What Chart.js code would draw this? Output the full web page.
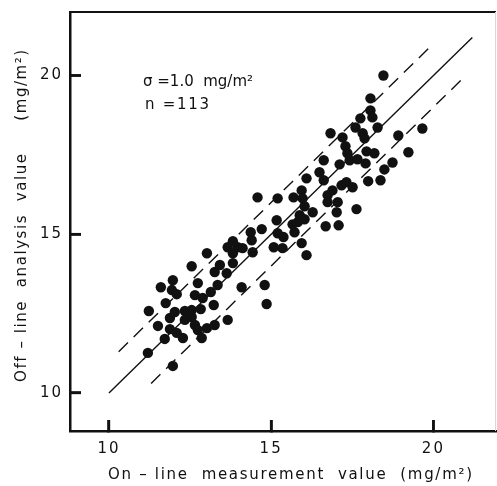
<!DOCTYPE html>
<html lang="en">
<head>
<meta charset="UTF-8">
<title>On-line vs off-line coating weight</title>
<script src="https://cdn.jsdelivr.net/npm/chart.js@4.4.0/dist/chart.umd.min.js"></script>
<style>
  html, body { margin: 0; padding: 0; background: #fff; }
  #wrap { width: 497px; height: 486px; }
</style>
</head>
<body>
<div id="wrap"><canvas id="chart" width="497" height="486"></canvas></div>
<script>
const onlineVals = [
  11.20, 11.97, 11.23, 11.51, 11.75, 11.72, 11.60, 11.94, 11.97, 12.09,
  11.88, 11.88, 12.03, 12.09, 12.28, 12.34, 12.34, 12.55, 12.55, 12.65,
  12.74, 12.65, 12.74, 12.83, 12.86, 13.02, 13.14, 13.23, 13.26, 13.35,
  13.66, 14.09, 13.26, 13.63, 12.55, 13.02, 13.42, 13.82, 13.66, 13.97,
  13.82, 13.82, 14.12, 14.43, 14.40, 14.37, 14.71, 15.08, 15.35, 15.20,
  15.38, 15.66, 15.72, 15.94, 16.09, 14.80, 14.86, 14.58, 15.20, 15.17,
  15.69, 15.94, 16.09, 15.97, 16.03, 16.28, 15.88, 15.82, 16.03, 16.49,
  16.62, 16.68, 17.08, 16.74, 16.89, 16.74, 17.05, 17.02, 17.17, 17.32,
  17.51, 17.63, 16.62, 16.83, 17.11, 17.20, 17.29, 17.35, 17.42, 17.66,
  17.60, 17.75, 17.82, 17.88, 17.94, 17.91, 18.06, 18.06, 18.12, 18.28,
  18.18, 18.46, 18.92, 19.66, 19.23, 18.74, 18.49, 17.99, 18.37, 12.89
];
const offlineVals = [
  11.26, 10.85, 12.58, 12.11, 12.83, 11.70, 13.33, 13.24, 13.55, 13.11,
  12.36, 12.01, 12.55, 11.89, 11.73, 12.58, 12.30, 12.61, 12.39, 12.14,
  11.98, 13.08, 13.46, 12.64, 11.73, 12.04, 13.18, 12.77, 12.14, 13.40,
  12.30, 13.33, 13.81, 13.77, 13.99, 14.40, 14.03, 14.09, 14.59, 14.59,
  14.78, 14.40, 14.56, 14.43, 14.81, 15.06, 15.16, 14.59, 14.56, 15.03,
  14.91, 15.31, 15.06, 14.72, 14.34, 13.40, 12.80, 16.16, 16.13, 15.44,
  16.16, 16.38, 16.76, 16.13, 15.88, 15.69, 15.60, 15.38, 15.47, 16.95,
  16.70, 15.25, 15.28, 16.23, 16.38, 16.01, 16.01, 15.69, 16.54, 16.64,
  16.48, 15.79, 17.33, 18.18, 17.20, 18.05, 17.77, 17.55, 17.33, 17.36,
  18.36, 18.65, 18.18, 18.02, 17.61, 17.23, 19.28, 18.90, 18.68, 18.36,
  17.55, 20.00, 18.11, 18.33, 17.58, 17.26, 17.04, 16.67, 16.70, 12.99
];

// reference lines: y = x (solid) and y = x +/- 1.0 (dashed)
const centerX = [10, 21.2];
const centerY = [10, 21.2];
const upperX = [10.3, 20.0];
const upperY = [11.3, 21.0];
const lowerX = [11.3, 21.0];
const lowerY = [10.3, 20.0];

const xMin = 8.8, xMax = 21.93;
const yMin = 8.8, yMax = 22;
const tickVals = [10, 15, 20];

const xTitle = 'On \u2013 line  measurement  value  (mg/m\u00B2)';
const yTitle = 'Off \u2013 line  analysis  value     (mg/m\u00B2)';
const noteSigma = '\u03C3 =1.0  mg/m\u00B2';
const noteN = 'n =113';

const ink = '#111';
const fontFam = '"DejaVu Sans", sans-serif';

function pairs(xs, ys) {
  return xs.map((v, i) => ({ x: v, y: ys[i] }));
}

// draw text stretched with letter spacing so it covers a given width
function spacedText(ctx, text, x, y, width) {
  ctx.letterSpacing = '0px';
  const w = ctx.measureText(text).width;
  const n = [...text].length;
  ctx.letterSpacing = Math.max(0, (width - w) / (n - 1)) + 'px';
  ctx.fillText(text, x, y);
}

// keep the plot box where the figure has it
function fixBox(size, key) {
  return s => {
    s[key] = size;
    s.paddingTop = 0; s.paddingBottom = 0;
    s.paddingLeft = 0; s.paddingRight = 0;
  };
}

// tick marks drawn by the axis itself; negative length puts them inside the frame
const tickGrid = {
  display: true,
  drawOnChartArea: false,
  drawTicks: true,
  tickLength: -11,
  tickWidth: 2.5,
  tickColor: ink
};

const framePlugin = {
  id: 'frame',
  beforeDraw(chart) {
    chart.ctx.letterSpacing = '2px';
  },
  afterDraw(chart) {
    const { ctx, chartArea: a, scales } = chart;
    const xs = scales.x, ys = scales.y;
    ctx.save();
    ctx.setLineDash([]);
    ctx.fillStyle = ink;
    // top border
    ctx.fillRect(a.left, a.top - 1, a.right - a.left, 2);
    // faint right border
    ctx.fillStyle = '#d8d8d8';
    ctx.fillRect(a.right - 1, a.top, 1, a.bottom - a.top);

    // inner tick marks (same spot as the axis ticks)
    ctx.fillStyle = ink;
    for (const v of tickVals) {
      const px = xs.getPixelForValue(v);
      ctx.fillRect(px - 1.25, a.bottom - 11, 2.5, 11);
      const py = ys.getPixelForValue(v);
      ctx.fillRect(a.left, py - 1.25, 11, 2.5);
    }

    ctx.textBaseline = 'middle';
    ctx.textAlign = 'left';

    // axis titles
    ctx.font = '15px ' + fontFam;
    spacedText(ctx, xTitle, a.left + 38, 475, 364);
    ctx.save();
    ctx.translate(22, 382);
    ctx.rotate(-Math.PI / 2);
    spacedText(ctx, yTitle, 0, 0, 332);
    ctx.restore();

    // sigma / n note
    const tx = xs.getPixelForValue(11.05);
    spacedText(ctx, noteSigma, tx, ys.getPixelForValue(19.78), 102);
    spacedText(ctx, noteN, tx + 2, ys.getPixelForValue(19.06), 64);
    ctx.restore();
  }
};

const chartCtx = document.getElementById('chart').getContext('2d');
new Chart(chartCtx, {
  type: 'scatter',
  data: {
    datasets: [
      {
        label: 'samples',
        data: pairs(onlineVals, offlineVals),
        backgroundColor: ink,
        borderWidth: 0,
        pointRadius: 5.2
      },
      {
        label: 'y = x',
        data: pairs(centerX, centerY),
        showLine: true,
        borderColor: ink,
        borderWidth: 1.4,
        pointRadius: 0
      },
      {
        label: '+sigma',
        data: pairs(upperX, upperY),
        showLine: true,
        borderColor: ink,
        borderWidth: 1.4,
        borderDash: [13, 8],
        pointRadius: 0
      },
      {
        label: '-sigma',
        data: pairs(lowerX, lowerY),
        showLine: true,
        borderColor: ink,
        borderWidth: 1.4,
        borderDash: [13, 8],
        pointRadius: 0
      }
    ]
  },
  options: {
    responsive: false,
    animation: false,
    layout: { autoPadding: false, padding: { top: 12, right: 1, left: 0, bottom: 0 } },
    plugins: {
      legend: { display: false },
      tooltip: { enabled: false }
    },
    scales: {
      x: {
        type: 'linear',
        min: xMin,
        max: xMax,
        afterBuildTicks: s => { s.ticks = tickVals.map(v => ({ value: v })); },
        afterFit: fixBox(55, 'height'),
        grid: tickGrid,
        border: { display: true, color: ink, width: 2.5 },
        ticks: { color: ink, padding: 20, font: { family: fontFam, size: 15 } },
        title: { display: false }
      },
      y: {
        type: 'linear',
        min: yMin,
        max: yMax,
        afterBuildTicks: s => { s.ticks = tickVals.map(v => ({ value: v })); },
        afterFit: fixBox(70, 'width'),
        grid: tickGrid,
        border: { display: true, color: ink, width: 2.5 },
        ticks: { color: ink, padding: 18, font: { family: fontFam, size: 15 } },
        title: { display: false }
      }
    }
  },
  plugins: [framePlugin]
});
</script>
</body>
</html>
